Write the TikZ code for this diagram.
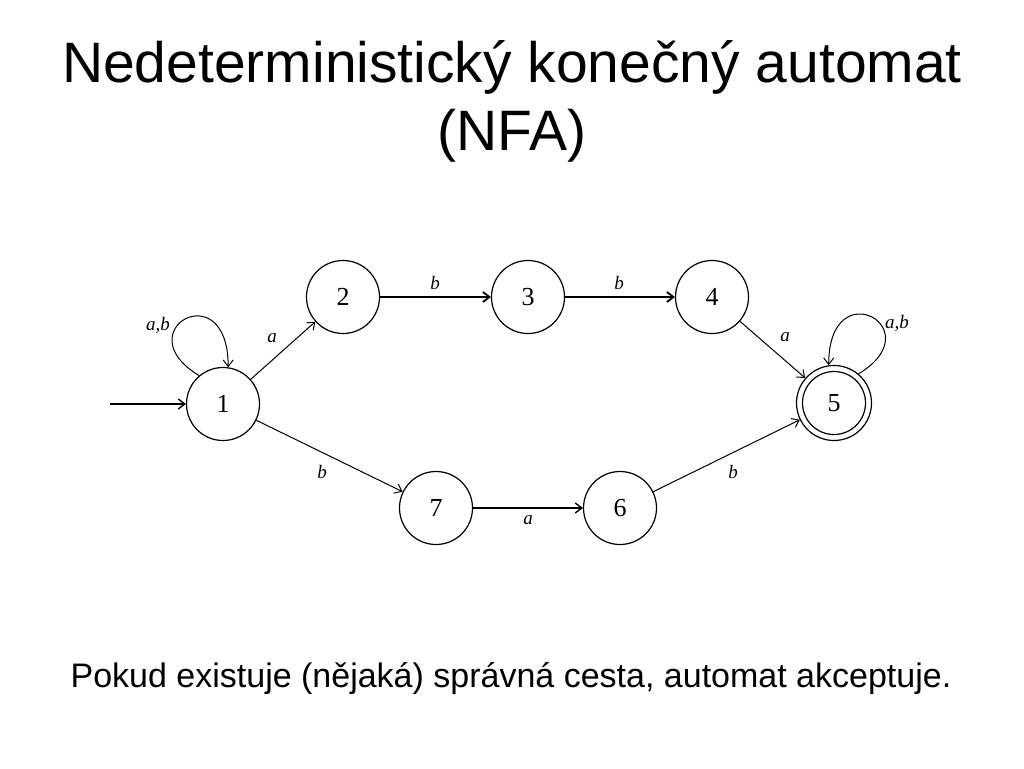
\documentclass[tikz,border=0pt]{standalone}
\usepackage{fontspec}
\setmainfont{Liberation Sans}
\newfontfamily\statefont{Liberation Serif}
\usetikzlibrary{arrows.meta}
\begin{document}
\begin{tikzpicture}[x=1pt,y=-1pt,
  state/.style={circle,draw,line width=1.2pt,minimum size=73pt,inner sep=0pt,
    font=\statefont\fontsize{26}{26}\selectfont},
  edge/.style={line width=1pt,-{Straight Barb[length=6.5pt,width=10pt]}},
  thick edge/.style={edge,line width=1.8pt},
  lbl/.style={font=\statefont\itshape\fontsize{19}{19}\selectfont,inner sep=0pt},
  titlefont/.style={font=\fontsize{57}{68}\selectfont},
  bodyfont/.style={font=\fontsize{34}{40}\selectfont}]
\useasboundingbox (0,0) rectangle (1024,768);
\fill[white] (0,0) rectangle (1024,768);

% headline and caption
\node[titlefont,anchor=base] (title1) at (512,82) {Nedeterministický konečný automat};
\node[titlefont,anchor=base] (title2) at (512,150) {(NFA)};
\node[bodyfont,anchor=base] (caption) at (511,687) {Pokud existuje (nějaká) správná cesta, automat akceptuje.};

% states
\node[state] (n1) at (223,404) {1};
\node[state] (n2) at (343,297) {2};
\node[state] (n3) at (528,297) {3};
\node[state] (n4) at (712,297) {4};
\node[state,minimum size=75pt] (n5) at (834,403) {5};
\draw[line width=1.2pt] (n5.center) circle[radius=31.5];
\node[state] (n7) at (436,508) {7};
\node[state] (n6) at (620,508) {6};

% start arrow
\coordinate (start) at (110,404);
\draw[edge,line width=1.4pt] (start) -- (n1);

% transitions
\draw[edge] (n1) -- (n2);
\node[lbl] (l12) at (272,338) {a};
\draw[thick edge] (n2) -- (n3);
\node[lbl] (l23) at (435,283) {b};
\draw[thick edge] (n3) -- (n4);
\node[lbl] (l34) at (619,283) {b};
\draw[edge] (n4) -- (n5);
\node[lbl] (l45) at (785,337) {a};
\draw[edge] (n1) -- (n7);
\node[lbl] (l17) at (322,472) {b};
\draw[edge,line width=1.4pt] (n7) -- (n6);
\node[lbl] (l76) at (528,520) {a};
\draw[edge] (n6) -- (n5);
\node[lbl] (l65) at (733,472) {b};

% self loops
\draw[edge] (n1.130) .. controls +(-75,-45) and +(0,-95) .. (n1.82);
\node[lbl] (l11) at (158,325) {a,b};
\draw[edge] (n5.50) .. controls +(75,-45) and +(0,-95) .. (n5.98);
\node[lbl] (l55) at (897,323) {a,b};
\end{tikzpicture}
\end{document}
